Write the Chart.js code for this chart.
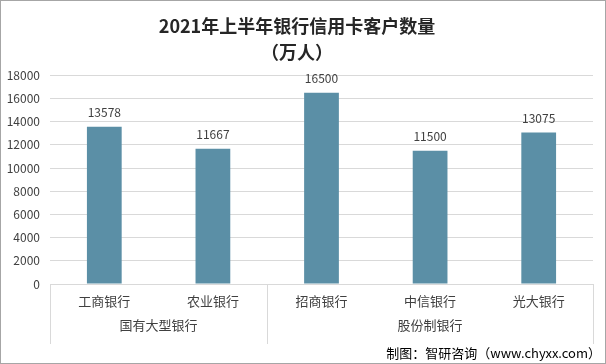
<!DOCTYPE html>
<html>
<head>
<meta charset="utf-8">
<script src="https://cdn.jsdelivr.net/npm/chart.js@4"></script>
<style>
  html, body { margin: 0; padding: 0; background: #fff; }
  #wrap { position: relative; width: 604px; height: 362px; border: 1px solid #a6a6a6; }
  canvas { display: block; }
</style>
</head>
<body>
<div id="wrap"><canvas id="c" width="604" height="362"></canvas></div>
<script>
const titleLines = ['2021年上半年银行信用卡客户数量', '（万人）'];
const banks = ['工商银行', '农业银行', '招商银行', '中信银行', '光大银行'];
const customers = [13578, 11667, 16500, 11500, 13075];
const groupNames = ['国有大型银行', '股份制银行'];
const groupSizes = [2, 3];
const yTicks = [0, 2000, 4000, 6000, 8000, 10000, 12000, 14000, 16000, 18000];
const footerText = '制图：智研咨询（www.chyxx.com）';

const CJK = '"Microsoft YaHei", "Noto Sans CJK SC", sans-serif';
const textColor = '#404040';

// value labels above each bar, group labels and dividers under the category axis, footer
const extras = {
  id: 'extras',
  afterDatasetsDraw(chart) {
    const ctx = chart.ctx;
    const meta = chart.getDatasetMeta(0);
    ctx.save();
    ctx.font = '12px ' + CJK;
    ctx.fillStyle = textColor;
    ctx.textAlign = 'center';
    ctx.textBaseline = 'bottom';
    meta.data.forEach((bar, i) => {
      ctx.fillText(String(customers[i]), bar.x, bar.y - 8);
    });
    ctx.restore();
  },
  afterDraw(chart) {
    const ctx = chart.ctx;
    const x = chart.scales.x;
    const area = chart.chartArea;
    const top = area.bottom;
    const bottom = area.bottom + 60;
    const step = x.getPixelForValue(1) - x.getPixelForValue(0);
    ctx.save();
    ctx.strokeStyle = '#d9d9d9';
    ctx.lineWidth = 1;
    // boundaries between groups
    const bounds = [0];
    groupSizes.forEach(n => bounds.push(bounds[bounds.length - 1] + n));
    bounds.forEach(b => {
      const px = Math.round(x.getPixelForValue(b) - step / 2) + 0.5;
      ctx.beginPath();
      ctx.moveTo(px, top);
      ctx.lineTo(px, bottom);
      ctx.stroke();
    });
    ctx.font = '13px ' + CJK;
    ctx.fillStyle = textColor;
    ctx.textAlign = 'center';
    ctx.textBaseline = 'middle';
    groupNames.forEach((g, i) => {
      const a = x.getPixelForValue(bounds[i]) - step / 2;
      const b = x.getPixelForValue(bounds[i + 1]) - step / 2;
      ctx.fillText(g, (a + b) / 2, area.bottom + 41);
    });
    ctx.font = '13px ' + CJK;
    ctx.fillStyle = '#000';
    ctx.textAlign = 'right';
    ctx.fillText(footerText, chart.width - 4, chart.height - 10);
    ctx.restore();
  }
};

new Chart(document.getElementById('c'), {
  type: 'bar',
  data: {
    labels: banks,
    datasets: [{
      data: customers,
      backgroundColor: '#5b8fa6',
      categoryPercentage: 1,
      barPercentage: 0.32
    }]
  },
  options: {
    responsive: false,
    animation: false,
    layout: { padding: { left: 0, right: 12, top: 0, bottom: 0 } },
    plugins: {
      legend: { display: false },
      tooltip: { enabled: false },
      title: {
        display: true,
        text: titleLines,
        color: '#262626',
        font: { family: CJK, size: 18, weight: 'bold', lineHeight: 1.4 },
        padding: { top: 13, bottom: 11 }
      }
    },
    scales: {
      x: {
        grid: { display: false },
        border: { display: true, color: '#d9d9d9' },
        ticks: { color: textColor, font: { family: CJK, size: 13 }, padding: 1 },
        afterFit(s) { s.height = 79; }
      },
      y: {
        min: 0,
        max: 18000,
        afterBuildTicks(s) { s.ticks = yTicks.map(v => ({ value: v })); },
        grid: { color: '#d9d9d9', drawTicks: false },
        border: { display: false },
        ticks: {
          color: textColor,
          font: { family: CJK, size: 12 },
          padding: 10,
          callback: v => String(v)
        },
        afterFit(s) { s.width = 49; }
      }
    }
  },
  plugins: [extras]
});
</script>
</body>
</html>
